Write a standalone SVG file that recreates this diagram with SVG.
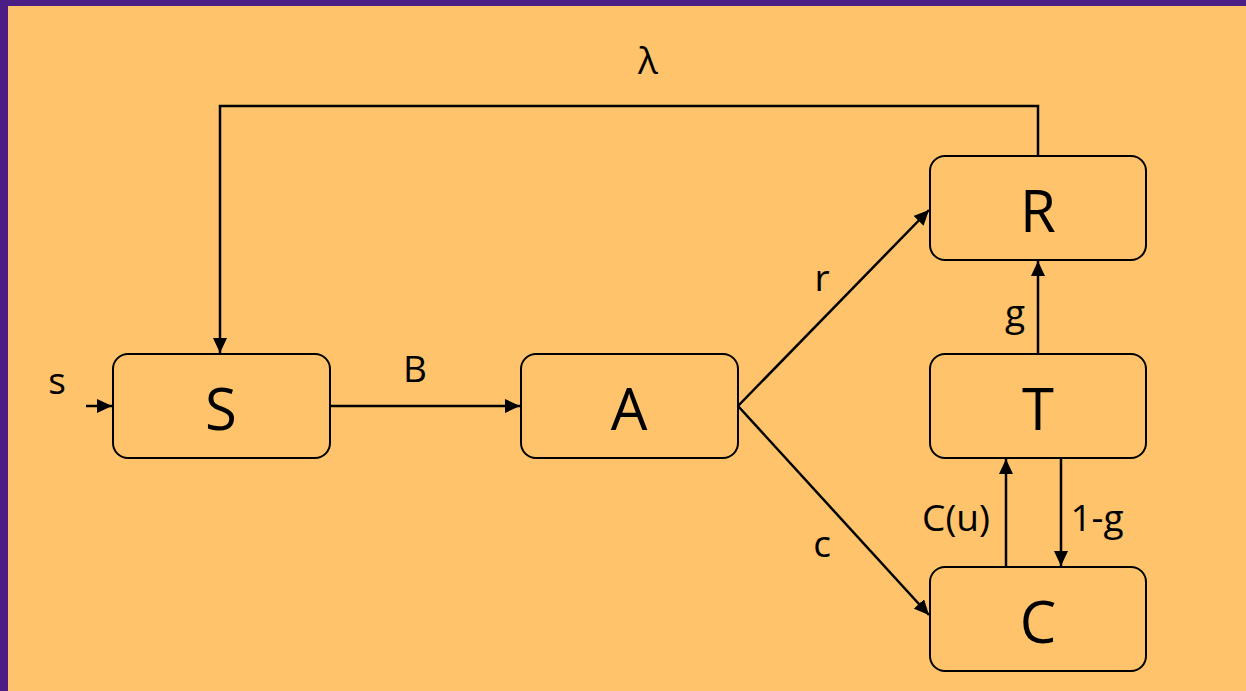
<svg xmlns="http://www.w3.org/2000/svg" width="1246" height="691" viewBox="0 0 1246 691">
  <style>
    .box { fill: #FEC36B; stroke: #000; stroke-width: 2; }
    .big { font-family: "Open Sans", "Liberation Sans", sans-serif; font-size: 58px; fill: #000; text-anchor: middle; }
    .lbl { font-family: "Open Sans", "Liberation Sans", sans-serif; font-size: 37px; fill: #000; text-anchor: middle; }
    .wire { fill: none; stroke: #000; stroke-width: 2.5; }
  </style>
  <defs>
    <marker id="arrow" markerUnits="userSpaceOnUse" markerWidth="15" markerHeight="14" refX="15" refY="7" orient="auto">
      <path d="M0,0 L15,7 L0,14 Z" fill="#000"/>
    </marker>
  </defs>

  <!-- frame -->
  <rect x="0" y="0" width="1246" height="691" fill="#4A1E85"/>
  <rect x="8" y="6" width="1238" height="685" fill="#FEC36B"/>

  <!-- transitions -->
  <g id="connectors">
    <polyline class="wire" points="1038,156 1038,106 220,106 220,353" marker-end="url(#arrow)"/>
    <line class="wire" x1="86" y1="406" x2="112" y2="406" marker-end="url(#arrow)"/>
    <line class="wire" x1="330" y1="406" x2="520" y2="406" marker-end="url(#arrow)"/>
    <line class="wire" x1="738" y1="406" x2="929" y2="210" marker-end="url(#arrow)"/>
    <line class="wire" x1="738" y1="406" x2="929" y2="615" marker-end="url(#arrow)"/>
    <line class="wire" x1="1038" y1="354" x2="1038" y2="261" marker-end="url(#arrow)"/>
    <line class="wire" x1="1006" y1="567" x2="1006" y2="459" marker-end="url(#arrow)"/>
    <line class="wire" x1="1061" y1="458" x2="1061" y2="566" marker-end="url(#arrow)"/>
    <text class="lbl" x="648" y="74">λ</text>
    <text class="lbl" x="57" y="394">s</text>
    <text class="lbl" x="415" y="382">B</text>
    <text class="lbl" x="822" y="291">r</text>
    <text class="lbl" x="822" y="557">c</text>
    <text class="lbl" x="1015" y="326">g</text>
    <text class="lbl" x="956" y="531">C(u)</text>
    <text class="lbl" x="1097" y="531">1-g</text>
  </g>

  <g id="node-S">
    <rect class="box" x="113" y="354" width="217" height="104" rx="15"/>
    <text class="big" x="221" y="430">S</text>
  </g>
  <g id="node-A">
    <rect class="box" x="521" y="354" width="217" height="104" rx="15"/>
    <text class="big" x="629" y="430">A</text>
  </g>
  <g id="node-R">
    <rect class="box" x="930" y="156" width="216" height="104" rx="15"/>
    <text class="big" x="1038" y="232">R</text>
  </g>
  <g id="node-T">
    <rect class="box" x="930" y="354" width="216" height="104" rx="15"/>
    <text class="big" x="1038" y="430">T</text>
  </g>
  <g id="node-C">
    <rect class="box" x="930" y="567" width="216" height="104" rx="15"/>
    <text class="big" x="1038" y="643">C</text>
  </g>
</svg>
